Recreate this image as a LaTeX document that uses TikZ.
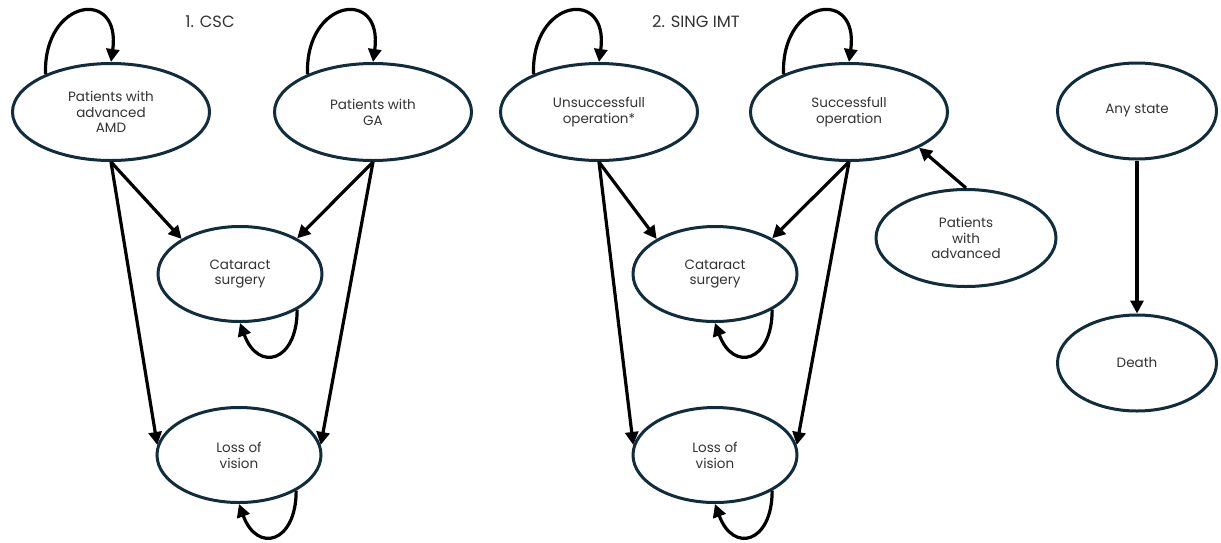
\documentclass[tikz,border=0pt]{standalone}
\usepackage{fontspec}
\setmainfont{Poppins}
\usetikzlibrary{shapes.geometric,arrows.meta}
\definecolor{navy}{HTML}{0F2D3C}
\definecolor{txt}{HTML}{333333}
\begin{document}
\begin{tikzpicture}
[x=1pt,y=1pt,
 state/.style={ellipse,draw=navy,line width=3pt,fill=white,inner sep=0pt,align=center,text=txt,font=\fontsize{13.5}{15.8}\selectfont},
 big/.style={minimum width=197pt,minimum height=97pt},
 mid/.style={minimum width=164pt,minimum height=95pt},
 adv/.style={minimum width=180pt,minimum height=97pt},
 side/.style={minimum width=159pt,minimum height=96pt},
 arr/.style={-{Triangle[length=13pt,width=13pt]},line width=3.2pt,black},
 title/.style={text=txt,font=\fontsize{16.3}{18}\selectfont}]
  \useasboundingbox (0,0) rectangle (1221,-542);

  % 1. CSC
  \node[title] (csc) at (210,-22) {1. CSC};
  \node[state,big] (amd) at (111,-112) {Patients with\\advanced\\AMD};
  \node[state,big] (ga) at (373,-112) {Patients with\\GA};
  \node[state,mid] (cat1) at (240,-274) {Cataract\\surgery};
  \node[state,mid] (loss1) at (239,-455) {Loss of\\vision};

  % 2. SING IMT
  \node[title] (imt) at (696,-22) {2. SING IMT};
  \node[state,big] (unsucc) at (599,-112) {Unsuccessfull\\operation*};
  \node[state,big] (succ) at (849,-112) {Successfull\\operation};
  \node[state,mid] (cat2) at (715,-274) {Cataract\\surgery};
  \node[state,mid] (loss2) at (715,-455) {Loss of\\vision};
  \node[state,adv] (adv) at (966,-238) {Patients\\with\\advanced};

  % any state
  \node[state,side] (any) at (1137,-111) {Any state};
  \node[state,side] (death) at (1137,-363) {Death};

  \foreach \from/\to in {amd.south/cat1.149, amd.south/loss1.173, ga.south/cat1.32, ga.south/loss1.7,
      unsucc.south/cat2.149, unsucc.south/loss2.173, succ.south/cat2.32, succ.south/loss2.7,
      adv.north/succ.-27, any.south/death.north}
    \draw[arr] (\from) -- (\to);

  \foreach \n in {amd,ga,unsucc,succ}
    \draw[arr] (\n.150) to[out=92,in=82,looseness=2.9] (\n.north);

  \foreach \n in {cat1,loss1,cat2,loss2}
    \draw[arr] (\n.-32) to[out=-90,in=-70,looseness=2.3] (\n.south);
\end{tikzpicture}
\end{document}
